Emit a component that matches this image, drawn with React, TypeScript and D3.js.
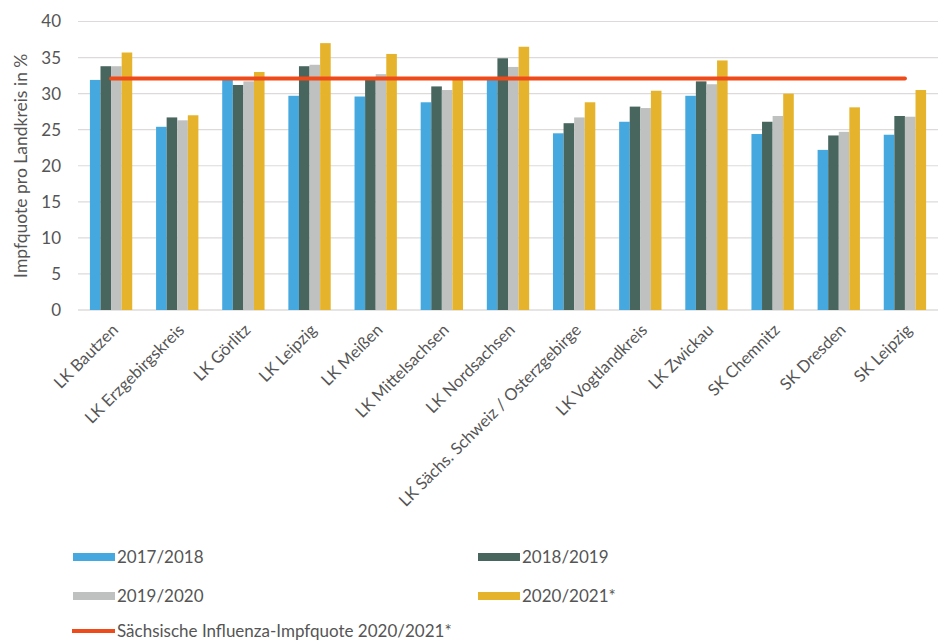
import * as d3 from "d3";
import { useEffect, useRef } from "react";

const categories = [
  "LK Bautzen",
  "LK Erzgebirgskreis",
  "LK Görlitz",
  "LK Leipzig",
  "LK Meißen",
  "LK Mittelsachsen",
  "LK Nordsachsen",
  "LK Sächs. Schweiz / Osterzgebirge",
  "LK Vogtlandkreis",
  "LK Zwickau",
  "SK Chemnitz",
  "SK Dresden",
  "SK Leipzig",
];

const seriesNames = ["2017/2018", "2018/2019", "2019/2020", "2020/2021*"];
const v2017 = [31.9, 25.4, 31.9, 29.7, 29.6, 28.8, 32.0, 24.5, 26.1, 29.7, 24.4, 22.2, 24.3];
const v2018 = [33.8, 26.7, 31.2, 33.8, 32.0, 31.0, 34.9, 25.9, 28.2, 31.7, 26.1, 24.2, 26.9];
const v2019 = [33.8, 26.3, 31.7, 34.0, 32.7, 30.5, 33.7, 26.7, 28.0, 31.3, 26.9, 24.7, 26.8];
const v2020 = [35.7, 27.0, 33.0, 37.0, 35.5, 32.3, 36.5, 28.8, 30.4, 34.6, 30.0, 28.1, 30.5];
const saxonyRate = 32.1;
const saxonyLabel = "Sächsische Influenza-Impfquote 2020/2021*";
const yTicks = [0, 5, 10, 15, 20, 25, 30, 35, 40];

const colors = ["#45a9e0", "#48665e", "#bfc1c0", "#e6b42c"];
const FONT = "Lato, 'Open Sans', sans-serif";
const TEXT = "#555555";

export default function App() {
  const ref = useRef<SVGSVGElement>(null);

  useEffect(() => {
    const svg = d3.select(ref.current);
    svg.selectAll("*").remove();

    const margin = { left: 78, right: 14, top: 21.5, bottom: 333 };
    const W = 952, H = 643;
    const innerW = W - margin.left - margin.right;
    const innerH = H - margin.top - margin.bottom;

    const x = d3.scaleBand().domain(categories).range([0, 860]).paddingInner(0.36).paddingOuter(0.18);
    const x1 = d3.scaleBand().domain(seriesNames).range([0, x.bandwidth()]);
    const y = d3.scaleLinear().domain([0, 40]).range([innerH, 0]);

    const g = svg.append("g").attr("transform", `translate(${margin.left},${margin.top})`);

    // gitterlinien
    g.selectAll(".grid")
      .data(yTicks)
      .enter()
      .append("line")
      .attr("x1", 0)
      .attr("x2", innerW)
      .attr("y1", d => y(d))
      .attr("y2", d => y(d))
      .attr("stroke", d => (d === 0 ? "#cfcaca" : "#dedada"))
      .attr("stroke-width", 1.2);

    // y-achse beschriftung
    g.selectAll(".ytick")
      .data(yTicks)
      .enter()
      .append("text")
      .attr("x", -17)
      .attr("y", d => y(d))
      .attr("dy", "0.35em")
      .attr("text-anchor", "end")
      .style("font-family", FONT)
      .style("font-size", "17px")
      .style("fill", TEXT)
      .text(d => d);

    svg.append("text")
      .attr("transform", `translate(27,${margin.top + innerH / 2}) rotate(-90)`)
      .attr("text-anchor", "middle")
      .style("font-family", FONT)
      .style("font-size", "17.5px")
      .style("fill", TEXT)
      .text("Impfquote pro Landkreis in %");

    // balken
    const series = [v2017, v2018, v2019, v2020];
    series.forEach((vals, i) => {
      g.selectAll(`.bar${i}`)
        .data(vals)
        .enter()
        .append("rect")
        .attr("x", (d, j) => (x(categories[j]) as number) + (x1(seriesNames[i]) as number))
        .attr("y", d => y(d))
        .attr("width", x1.bandwidth())
        .attr("height", d => innerH - y(d))
        .style("fill", colors[i]);
    });

    // landesquote
    const first = (x(categories[0]) as number) + x.bandwidth() / 2;
    const last = (x(categories[categories.length - 1]) as number) + x.bandwidth() / 2;
    g.append("line")
      .attr("x1", first)
      .attr("x2", last)
      .attr("y1", y(saxonyRate))
      .attr("y2", y(saxonyRate))
      .attr("stroke", "#ee4a1a")
      .attr("stroke-width", 4)
      .attr("stroke-linecap", "round");

    // x-achse beschriftung
    g.selectAll(".xlab")
      .data(categories)
      .enter()
      .append("text")
      .attr("transform", d => `translate(${(x(d) as number) + x.bandwidth() / 2 + 4},${innerH + 17}) rotate(-45)`)
      .attr("text-anchor", "end")
      .attr("dy", "0.35em")
      .style("font-family", FONT)
      .style("font-size", "16.5px")
      .style("fill", TEXT)
      .text(d => d);

    // legende
    const legend = [
      { label: seriesNames[0], color: colors[0], x: 73, y: 557, line: false },
      { label: seriesNames[1], color: colors[1], x: 478, y: 557, line: false },
      { label: seriesNames[2], color: colors[2], x: 73, y: 596, line: false },
      { label: seriesNames[3], color: colors[3], x: 478, y: 596, line: false },
      { label: saxonyLabel, color: "#ee4a1a", x: 73, y: 631, line: true },
    ];
    legend.forEach(l => {
      if (l.line) {
        svg.append("rect").attr("x", l.x - 1).attr("y", l.y - 2).attr("width", 43).attr("height", 4).style("fill", l.color);
      } else {
        svg.append("rect").attr("x", l.x).attr("y", l.y - 4).attr("width", 42).attr("height", 8).style("fill", l.color);
      }
      svg.append("text")
        .attr("x", l.x + 44)
        .attr("y", l.y)
        .attr("dy", "0.35em")
        .style("font-family", FONT)
        .style("font-size", "17px")
        .style("fill", TEXT)
        .text(l.label);
    });
  }, []);

  return (
    <svg
      ref={ref}
      width={952}
      height={643}
      style={{ display: "block", position: "absolute", left: 0, top: 0, background: "#fff" }}
    />
  );
}
